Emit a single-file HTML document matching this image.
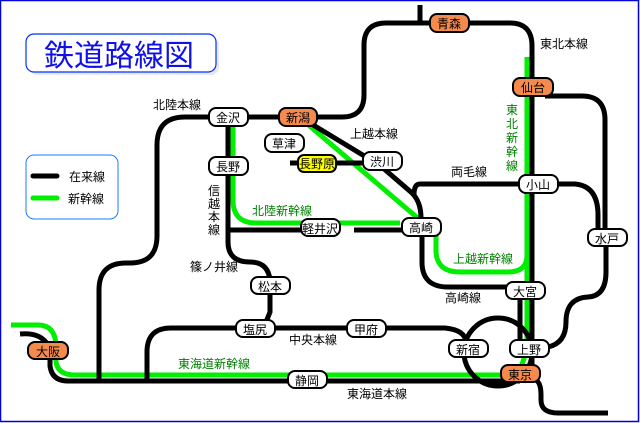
<!DOCTYPE html>
<html><head><meta charset="utf-8"><style>
html,body{margin:0;padding:0;background:#fff}
svg{display:block}
text{font-family:"Liberation Sans","Noto Sans CJK JP",sans-serif;font-size:12px}
</style></head><body>
<svg width="640" height="423" viewBox="0 0 640 423" xmlns="http://www.w3.org/2000/svg">
<rect x="0.5" y="0.5" width="638" height="421" fill="#fff" stroke="#0000e0" stroke-width="1.5"/>
<!-- title -->
<rect x="29" y="37" width="190" height="38" rx="8" fill="#e8e8f0"/>
<rect x="26" y="34" width="190" height="38" rx="8" fill="#fff" stroke="#0033ff" stroke-width="1.2"/>
<text x="119" y="66" text-anchor="middle" style="font-size:30px;fill:#1010e8" >鉄道路線図</text>
<!-- legend -->
<rect x="26" y="155" width="92" height="64" rx="8" fill="#fff" stroke="#1a7cff" stroke-width="1"/>
<line x1="33" y1="176" x2="57" y2="176" stroke="#000" stroke-width="5" stroke-linecap="round"/>
<line x1="33" y1="198" x2="57" y2="198" stroke="#00ee00" stroke-width="5" stroke-linecap="round"/>
<text x="69" y="181">在来線</text>
<text x="68" y="203">新幹線</text>

<g fill="none" stroke-width="5">
<g stroke="#00ee00">
<path d="M11 325 H38 Q55 325 56 345 V362 Q58 375 75 375 H505"/>
<path d="M233 120 V200 Q233 223 256 223 H400"/>
<path d="M305 122 L420 220"/>
<path d="M436 230 V250 Q436 272 460 272 H508 Q527 272 527 255"/>
<path d="M527 57 V350 L520 370"/>
</g>
<g stroke="#000">
<path d="M228 117 H185 Q157 117 157 145 V236 Q157 263 130 263 H126 Q99 263 99 290 V381"/>
<path d="M20 334 Q40 332 48 345"/>
<path d="M50 359 V366 Q52 381 68 381 H520"/>
<path d="M147 381 V352 Q147 328 171 328 H445 Q465 330 466 342"/>
<path d="M228 117 V242 Q228 262 250 262 Q268 262 270 280"/>
<path d="M270 293 V312 L266 322"/>
<path d="M228 230 H302"/>
<path d="M354 230 H404"/>
<path d="M228 117 H342 Q364 117 364 95 V45 Q364 23 386 23 H510 Q532 23 532 46 V373"/>
<path d="M420 5 V23"/>
<path d="M300 117 L366 157"/>
<path d="M383 168 L412 193 Q421 202 421 218"/>
<path d="M538 184 H420 Q414 184 414 195"/>
<path d="M290 163 H366"/>
<path d="M545 96 H582 Q605 96 605 120 V230"/>
<path d="M556 184 H575 Q598 186 598 215 V232"/>
<path d="M606 245 V272 Q606 296 588 297 Q566 298 566 322 Q566 343 548 347"/>
<path d="M422 235 V262 Q422 287 448 287 H508"/>
<path d="M520 290 V350"/>
<path d="M536 380 Q541 383 541 395 V400 Q541 413 558 413 H608"/>
<circle cx="498" cy="352" r="34"/>
</g>
</g>

<g stroke="#000" stroke-width="2">
<rect x="209" y="108" width="39" height="18" rx="7" fill="#fff"/>
<rect x="279" y="108" width="38" height="18" rx="7" fill="#f58a4e"/>
<rect x="430" y="14" width="39" height="18" rx="7" fill="#f58a4e"/>
<rect x="513" y="78" width="40" height="18" rx="7" fill="#f58a4e"/>
<rect x="265" y="134" width="39" height="18" rx="7" fill="#fff"/>
<rect x="298" y="155" width="38" height="17" rx="6" fill="#ffff00"/>
<rect x="363" y="152" width="39" height="18" rx="7" fill="#fff"/>
<rect x="209" y="157" width="39" height="18" rx="7" fill="#fff"/>
<rect x="519" y="175" width="39" height="18" rx="7" fill="#fff"/>
<rect x="588" y="229" width="39" height="17" rx="7" fill="#fff"/>
<rect x="402" y="218" width="39" height="18" rx="7" fill="#fff"/>
<rect x="301" y="219" width="39" height="17" rx="7" fill="#fff"/>
<rect x="506" y="282" width="39" height="17" rx="7" fill="#fff"/>
<rect x="347" y="320" width="39" height="17" rx="7" fill="#fff"/>
<rect x="449" y="340" width="39" height="17" rx="7" fill="#fff"/>
<rect x="510" y="340" width="39" height="17" rx="7" fill="#fff"/>
<rect x="501" y="365" width="39" height="17" rx="7" fill="#f58a4e"/>
<rect x="288" y="371" width="39" height="17" rx="7" fill="#fff"/>
<rect x="236" y="320" width="39" height="17" rx="7" fill="#fff"/>
<rect x="251" y="277" width="39" height="17" rx="7" fill="#fff"/>
<rect x="28" y="342" width="40" height="17" rx="7" fill="#f58a4e"/>
</g>
<g text-anchor="middle" style="font-size:13px">
<text x="228" y="122">金沢</text><text x="298" y="122">新潟</text>
<text x="449" y="28">青森</text><text x="533" y="92">仙台</text>
<text x="284" y="148">草津</text><text x="317" y="168">長野原</text>
<text x="382" y="166">渋川</text><text x="228" y="171">長野</text>
<text x="538" y="189">小山</text><text x="607" y="243">水戸</text>
<text x="421" y="232">高崎</text><text x="320" y="233">軽井沢</text>
<text x="525" y="296">大宮</text><text x="366" y="334">甲府</text>
<text x="468" y="354">新宿</text><text x="529" y="354">上野</text>
<text x="520" y="379">東京</text><text x="307" y="385">静岡</text>
<text x="255" y="334">塩尻</text><text x="270" y="291">松本</text>
<text x="48" y="356">大阪</text>
</g>
<g>
<text x="153" y="109">北陸本線</text>
<text x="350" y="138">上越本線</text>
<text x="540" y="48">東北本線</text>
<text x="451" y="176">両毛線</text>
<text x="445" y="302">高崎線</text>
<text x="190" y="271">篠ノ井線</text>
<text x="289" y="344">中央本線</text>
<text x="347" y="398">東海道本線</text>
<g text-anchor="middle"><text x="214" y="195">信</text><text x="214" y="208">越</text><text x="214" y="221">本</text><text x="214" y="234">線</text></g>
<g fill="#008000">
<text x="252" y="215">北陸新幹線</text>
<text x="453" y="263">上越新幹線</text>
<text x="178" y="368">東海道新幹線</text>
<g text-anchor="middle"><text x="512" y="114">東</text><text x="512" y="128">北</text><text x="512" y="142">新</text><text x="512" y="156">幹</text><text x="512" y="170">線</text></g>
</g>
</g>
</svg>
</body></html>
